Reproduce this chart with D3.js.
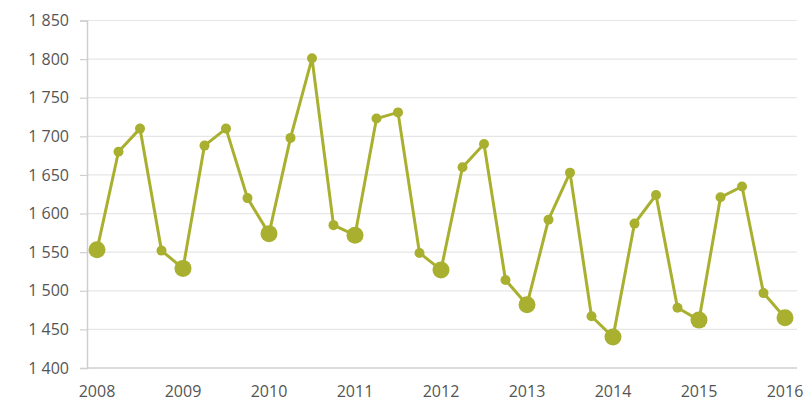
<!DOCTYPE html>
<html><head><meta charset="utf-8">
<script src="https://cdn.jsdelivr.net/npm/d3@7"></script>
<style>
html,body{margin:0;padding:0;background:#fff;}
svg{display:block;}
text{font-family:"Open Sans","Noto Sans",sans-serif;fill:#555;}
</style></head>
<body>
<svg id="chart" width="810" height="405"></svg>
<script>
const years = [2008, 2009, 2010, 2011, 2012, 2013, 2014, 2015, 2016];
const quarters = [1, 2, 3, 4];
const values = [
  1553, 1680, 1710, 1552,
  1529, 1688, 1710, 1620,
  1574, 1698, 1801, 1585,
  1572, 1723, 1731, 1549,
  1527, 1660, 1690, 1514,
  1482, 1592, 1653, 1467,
  1440, 1587, 1624, 1478,
  1462, 1621, 1635, 1497,
  1465
];
const yTicks = [1400, 1450, 1500, 1550, 1600, 1650, 1700, 1750, 1800, 1850];

const svg = d3.select("#chart");
const color = "#a9b030";
const x = d3.scaleLinear().domain([2008, 2016]).range([97, 785]);
const y = d3.scaleLinear().domain([1400, 1850]).range([368, 20.5]);

const fmt = v => d3.format(",")(v).replace(",", " ");

// gridlines
svg.append("g").selectAll("line").data(yTicks.slice(1)).join("line")
  .attr("x1", 87).attr("x2", 797)
  .attr("y1", d => y(d)).attr("y2", d => y(d))
  .attr("stroke", "#e6e6e6").attr("stroke-width", 1.2);

// y axis
const yAxis = svg.append("g").attr("transform", "translate(87,0)")
  .call(d3.axisLeft(y).tickValues(yTicks).tickFormat(fmt).tickSize(7).tickPadding(11));
yAxis.select(".domain").attr("stroke", "#cfcfcf").attr("stroke-width", 1.5);
yAxis.selectAll(".tick line").attr("stroke", "#cfcfcf").attr("stroke-width", 1.2);
yAxis.selectAll("text").attr("font-size", 16).style("fill", "#555")
  .style("font-family", "'Open Sans','Noto Sans',sans-serif");

// x axis line
svg.append("line").attr("x1", 87).attr("x2", 797).attr("y1", y(1400)).attr("y2", y(1400))
  .attr("stroke", "#cfcfcf").attr("stroke-width", 1.5);

// x labels
svg.append("g").selectAll("text").data(years).join("text")
  .attr("x", d => x(d)).attr("y", 397)
  .attr("text-anchor", "middle").attr("font-size", 16)
  .text(d => d);

const pts = values.map((v, i) => ({t: 2008 + i / 4, v, big: i % 4 === 0}));

svg.append("path").datum(pts)
  .attr("fill", "none").attr("stroke", color).attr("stroke-width", 3)
  .attr("stroke-linejoin", "round")
  .attr("d", d3.line().x(d => x(d.t)).y(d => y(d.v)));

svg.append("g").selectAll("circle").data(pts).join("circle")
  .attr("cx", d => x(d.t)).attr("cy", d => y(d.v))
  .attr("r", d => d.big ? 8.5 : 5)
  .attr("fill", color);
</script>
</body></html>
